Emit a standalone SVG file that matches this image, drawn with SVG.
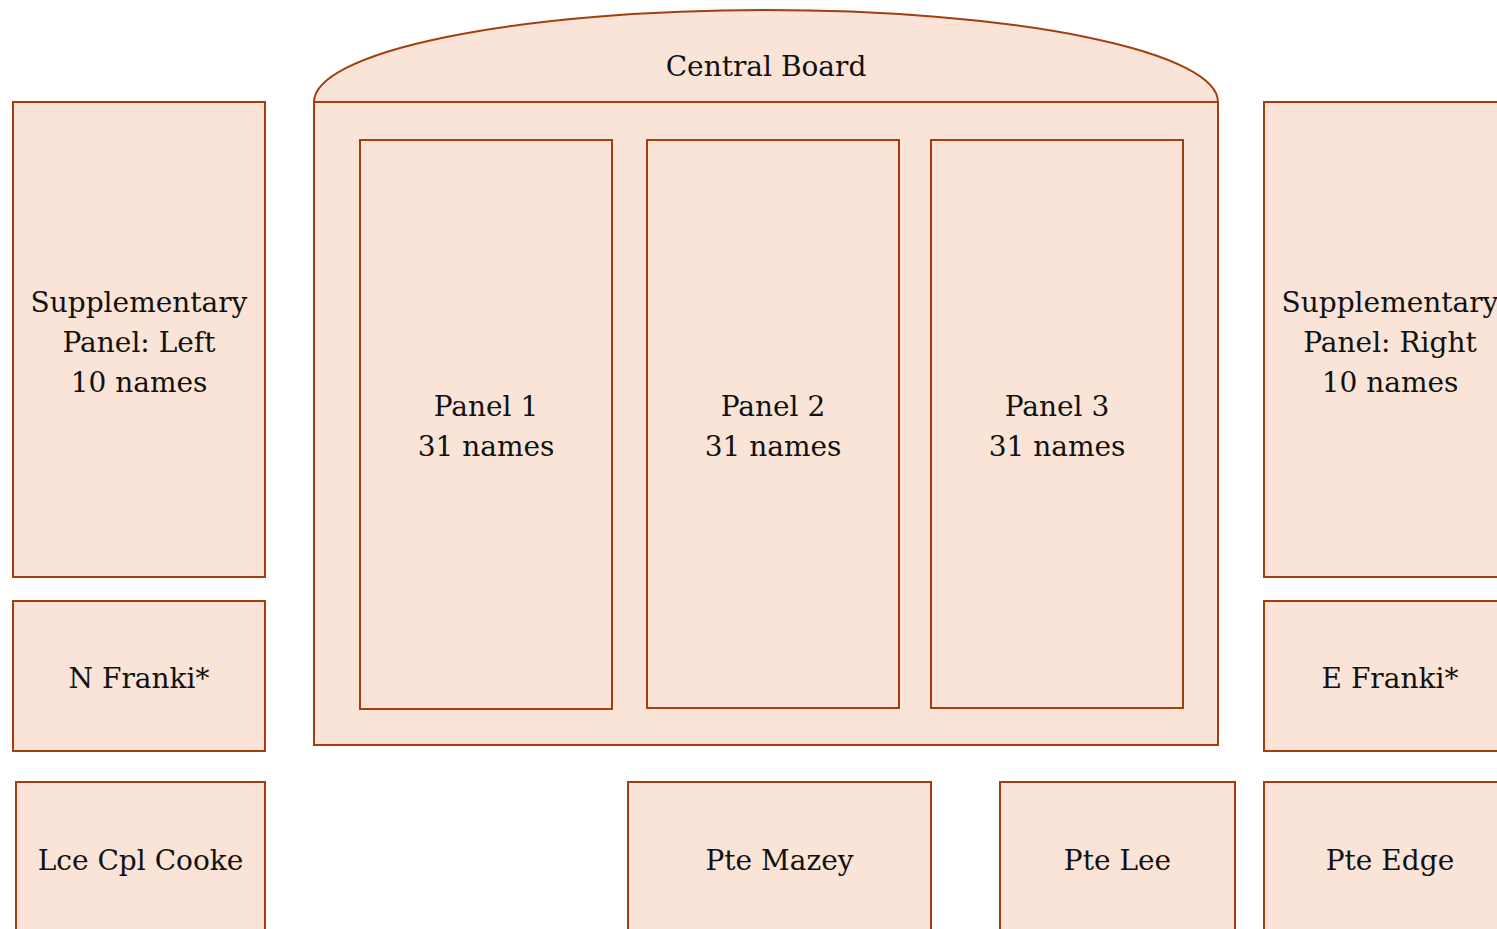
<svg xmlns="http://www.w3.org/2000/svg" width="1497" height="929" viewBox="0 0 1497 929">
<style>
.b{fill:#FAE4D7;stroke:#A23F0E;stroke-width:2}
.t{font-family:"DejaVu Serif","Liberation Serif",serif;font-size:28px;fill:#111;text-anchor:middle}
</style>
<rect width="1497" height="929" fill="#fff"/>
<g id="central-board">
<path class="b" d="M314,102 A452,92 0 0 1 1218,102 Z"/>
<rect class="b" x="314" y="102" width="904" height="643"/>
<text class="t" x="766" y="76">Central Board</text>
</g>
<g id="panel-1">
<rect class="b" x="360" y="140" width="252" height="569"/>
<text class="t" x="486" y="416">Panel 1</text>
<text class="t" x="486" y="456">31 names</text>
</g>
<g id="panel-2">
<rect class="b" x="647" y="140" width="252" height="568"/>
<text class="t" x="773" y="416">Panel 2</text>
<text class="t" x="773" y="456">31 names</text>
</g>
<g id="panel-3">
<rect class="b" x="931" y="140" width="252" height="568"/>
<text class="t" x="1057" y="416">Panel 3</text>
<text class="t" x="1057" y="456">31 names</text>
</g>
<g id="supp-left">
<rect class="b" x="13" y="102" width="252" height="475"/>
<text class="t" x="139" y="312">Supplementary</text>
<text class="t" x="139" y="352">Panel: Left</text>
<text class="t" x="139" y="392">10 names</text>
</g>
<g id="supp-right">
<rect class="b" x="1264" y="102" width="252" height="475"/>
<text class="t" x="1390" y="312">Supplementary</text>
<text class="t" x="1390" y="352">Panel: Right</text>
<text class="t" x="1390" y="392">10 names</text>
</g>
<g id="n-franki">
<rect class="b" x="13" y="601" width="252" height="150"/>
<text class="t" x="139" y="688">N Franki*</text>
</g>
<g id="e-franki">
<rect class="b" x="1264" y="601" width="252" height="150"/>
<text class="t" x="1390" y="688">E Franki*</text>
</g>
<g id="lce-cpl-cooke">
<rect class="b" x="16" y="782" width="249" height="160"/>
<text class="t" x="140.5" y="870">Lce Cpl Cooke</text>
</g>
<g id="pte-mazey">
<rect class="b" x="628" y="782" width="303" height="160"/>
<text class="t" x="779.5" y="870">Pte Mazey</text>
</g>
<g id="pte-lee">
<rect class="b" x="1000" y="782" width="235" height="160"/>
<text class="t" x="1117.5" y="870">Pte Lee</text>
</g>
<g id="pte-edge">
<rect class="b" x="1264" y="782" width="252" height="160"/>
<text class="t" x="1390" y="870">Pte Edge</text>
</g>
<g id="connectors"></g>
</svg>
